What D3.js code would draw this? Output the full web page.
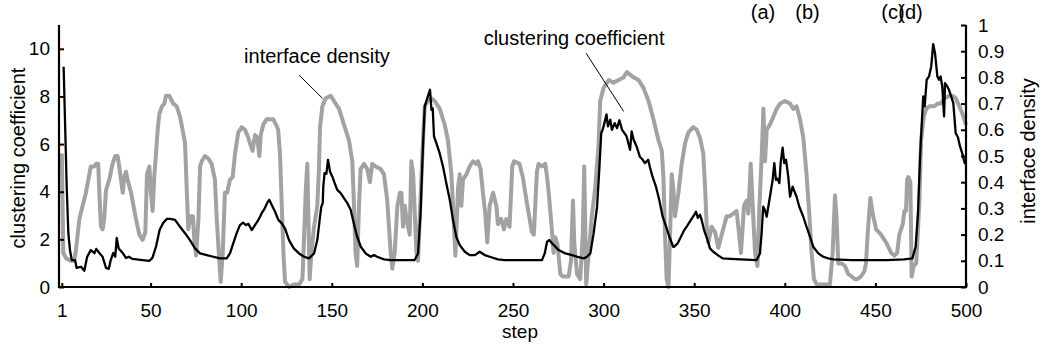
<!DOCTYPE html>
<html>
<head>
<meta charset="utf-8">
<script src="https://cdn.jsdelivr.net/npm/d3@7"></script>
<style>
  html, body { margin: 0; padding: 0; background: #fff; }
  svg { display: block; font-family: "Liberation Sans", Arial, Helvetica, sans-serif; }
</style>
</head>
<body>
<svg id="chart" width="1042" height="348"></svg>
<script>
// Step-indexed series: [step, value]
const clusteringCoefficient = [
  [2,9.25],[3.7,4.2],[4.6,2.27],[5.5,1.55],[6.5,1.13],[8.3,1.13],[9.2,0.8],[11.6,0.85],[13.4,0.68],
  [15,1.27],[17,1.55],[19,1.42],[20,1.6],[21.7,1.43],[23.5,1.27],[25.4,0.8],[26.9,0.76],[28,1.13],
  [29.4,1.43],[30.5,1.27],[31.3,2.06],[32.4,1.62],[34.6,1.43],[36.4,1.22],[38,1.27],[40,1.18],
  [45.6,1.13],[49.3,1.1],[51,1.22],[53,1.7],[55,2.4],[57,2.7],[59,2.86],[61,2.86],[63.5,2.82],
  [66.2,2.53],[69,2.26],[71.7,1.97],[74.5,1.62],[77.3,1.41],[81,1.34],[84.6,1.27],[88.3,1.2],
  [92,1.2],[93.8,1.41],[95.6,1.83],[97.5,2.26],[99.3,2.6],[101,2.7],[102.6,2.6],[104,2.65],
  [105.8,2.39],[107.6,2.6],[109.5,2.82],[110.4,2.95],[111.3,3.1],[113,3.3],[114.4,3.54],[115.5,3.66],
  [116.8,3.45],[118.7,3.16],[120.5,2.82],[122.3,2.68],[124.2,2.45],[126.4,1.97],[129,1.62],
  [131.9,1.41],[134.7,1.27],[137.4,1.2],[140.2,1.41],[142,1.97],[143.5,2.95],[144.2,3.37],[145,3.52],
  [145.3,4.21],[146,4.78],[147,4.75],[147.9,5.34],[149,4.85],[150.3,4.63],[151.6,4.36],[153,4.08],
  [154.9,3.94],[156.7,3.73],[158.6,3.52],[160.4,3.24],[161.3,2.95],[162.6,2.53],[164,2.11],[166,1.69],
  [168.7,1.41],[171.5,1.27],[173.3,1.34],[175,1.27],[178.8,1.16],[182.5,1.13],[195.7,1.13],[197.6,1.41],
  [199,3.1],[200.3,5.9],[201.3,7.58],[203,8.0],[204.2,8.28],[205,7.44],[205.7,7.5],[206.4,6.32],
  [207.7,6.04],[209.5,5.62],[211.4,5.05],[213.2,4.36],[215.1,3.66],[216.9,2.82],[218.7,2.11],
  [220.6,1.76],[223.4,1.48],[226.1,1.34],[229,1.34],[231.6,1.48],[234.4,1.34],[238,1.25],[241.7,1.16],
  [245.4,1.13],[266,1.13],[267.5,1.41],[268.8,1.9],[270,1.97],[271.5,1.84],[273.3,1.7],[275.2,1.55],
  [278.9,1.41],[282.6,1.34],[286.2,1.25],[289,1.2],[290.8,1.27],[292.7,1.41],[294.5,2.26],[296.4,3.37],
  [297.6,4.92],[298.7,6.46],[299.5,6.6],[300.5,6.9],[301.6,7.25],[302.4,6.74],[303.7,7.02],[304.6,6.6],
  [306.1,6.88],[307.4,6.67],[308.7,7.0],[310.2,6.6],[311.5,6.46],[312.7,6.32],[314.6,5.76],[315.5,6.53],
  [316.5,6.2],[318.2,5.9],[320,5.47],[321.6,5.34],[322.8,5.2],[324.6,5.34],[325.5,5.05],[327,4.63],
  [328.9,4.21],[330.7,3.66],[332.6,2.95],[334.5,2.53],[336.3,2.11],[338.4,1.69],[339,1.69],[340.9,1.84],
  [342.7,2.11],[344.5,2.39],[346.4,2.6],[348.2,2.82],[350,3.03],[351,3.16],[352,2.9],[353.2,3.03],
  [354,2.85],[355.4,2.4],[357.4,1.97],[358.7,1.62],[360.2,1.5],[363,1.34],[365.7,1.2],[370,1.18],
  [375.3,1.16],[384.5,1.13],[386.3,1.41],[387.2,2.26],[388.1,3.37],[389,3.24],[390,2.95],[390.9,3.37],
  [391.8,3.79],[393.3,4.5],[394.2,5.2],[395.1,4.5],[396,4.55],[397,4.36],[397.7,5.2],[398.8,5.85],
  [399.7,5.2],[400.7,5.34],[401.9,4.63],[402.9,3.79],[404.3,4.21],[405.4,4.0],[406.5,3.79],[408,3.37],
  [410.2,2.95],[412,2.53],[413.9,2.11],[415.7,1.69],[418.5,1.41],[421.2,1.27],[424,1.2],[426.8,1.16],
  [437,1.13],[456.6,1.13],[465.8,1.16],[470.4,1.2],[472.2,1.69],[473.5,3.1],[474.6,5.34],[475.5,6.74],
  [476.4,8.0],[477.2,7.58],[478.3,8.7],[479.6,8.84],[480.8,9.26],[481.9,10.2],[482.9,9.82],[484.2,8.84],
  [485.1,8.7],[486,8.84],[486.9,8.42],[487.9,7.16],[488.4,8.56],[489.7,8.42],[490.6,8.28],[491.8,8.0],
  [493,7.72],[494.3,6.46],[495.5,6.3],[496.7,5.9],[497.9,5.62],[499.3,5.2],[500,5.2]
];

const interfaceDensity = [
  [1,.51],[1.8,.13],[3.3,.11],[6,.10],[7.8,.10],[8.8,.14],[10.7,.26],[12.5,.31],[14.3,.36],[16.2,.43],
  [17,.46],[18.9,.46],[19.9,.47],[21.1,.47],[21.7,.36],[22.6,.23],[23.5,.22],[24.4,.26],[25.4,.37],
  [27.2,.41],[29,.47],[30.5,.50],[31.8,.50],[32.7,.46],[34.6,.36],[35.5,.42],[36.4,.44],[37.3,.41],
  [39.2,.36],[41.9,.26],[43.8,.20],[45.6,.18],[47.1,.21],[48,.43],[49.3,.46],[50.2,.36],[51.1,.29],
  [52.1,.43],[53,.51],[53.9,.60],[54.8,.66],[56.3,.69],[57.6,.70],[58.5,.73],[60.3,.73],[62.5,.70],
  [64.4,.69],[66.2,.65],[67.1,.62],[69,.55],[69.9,.38],[70.8,.22],[72.1,.27],[73.4,.27],[74,.19],
  [75.1,.12],[76.4,.26],[77.3,.46],[78.2,.48],[80,.50],[81.9,.49],[83.7,.47],[85.5,.41],[86.5,.26],
  [87.9,.10],[88.7,.02],[89.8,.13],[91,.36],[92.3,.36],[93.8,.41],[95.3,.42],[96.6,.51],[98.4,.59],
  [100.3,.61],[102.1,.60],[103.9,.57],[104.8,.55],[106.3,.52],[107.6,.58],[108.9,.57],[110,.50],
  [110.8,.58],[112.2,.62],[114,.64],[115.9,.64],[117.7,.64],[119.2,.62],[120.4,.60],[121.4,.51],
  [122.3,.33],[123.3,.13],[124.2,.02],[126.4,.00],[129,.01],[132,.01],[133.8,.03],[134.7,.19],
  [135.7,.38],[136.5,.47],[137.1,.26],[137.8,.03],[138.7,.13],[140.2,.23],[142,.31],[142.9,.45],
  [143.5,.61],[144.8,.69],[146.6,.72],[149.4,.73],[151.2,.71],[154,.68],[156.7,.62],[159.5,.56],
  [161.3,.48],[162.2,.32],[163.1,.13],[164,.08],[165,.31],[165.9,.45],[167.8,.47],[169.6,.45],[171,.40],
  [172.3,.47],[174.2,.46],[177,.45],[178.8,.43],[180.6,.33],[182.5,.13],[183.4,.07],[184.7,.13],
  [186.2,.31],[187.6,.36],[188.4,.36],[189.3,.23],[190.3,.31],[191.2,.26],[193,.20],[193.9,.48],
  [194.9,.43],[195.8,.28],[196.7,.13],[197.6,.10],[198.5,.26],[200.4,.57],[201.3,.69],[203.1,.71],
  [204.9,.72],[206.8,.71],[209.6,.68],[212.3,.62],[214.1,.56],[216,.43],[216.9,.31],[218.2,.12],
  [219.7,.38],[220.6,.43],[221.5,.31],[222.4,.41],[224.3,.43],[226.1,.46],[227.9,.48],[229.7,.47],
  [230.7,.48],[232.1,.45],[233.4,.36],[234.7,.28],[235.8,.17],[237.1,.31],[239,.36],[240.8,.31],
  [241.7,.24],[243.5,.26],[245,.22],[246.3,.26],[248.1,.23],[249.6,.46],[250.6,.48],[253.6,.47],
  [255.4,.42],[257.7,.32],[260.4,.21],[261.5,.20],[262.5,.34],[263.2,.44],[264.1,.47],[266,.46],
  [267.8,.47],[268.8,.42],[269.7,.36],[271.2,.24],[272.4,.13],[273.3,.19],[274.6,.16],[276.1,.05],
  [277.5,.04],[280.7,.04],[282,.10],[283.1,.33],[283.8,.17],[285.3,.05],[287.1,.03],[288.5,.20],
  [289.3,.46],[290.4,.01],[291.7,.12],[293.5,.27],[295.4,.38],[297.2,.54],[298.1,.71],[300,.76],
  [302.8,.79],[305.5,.78],[308.3,.79],[311,.80],[312.9,.82],[314.7,.81],[316.5,.80],[319.3,.79],
  [322,.76],[324.8,.71],[327.5,.64],[330.3,.56],[332.1,.52],[333,.42],[333.9,.20],[334.8,.03],
  [335.8,.00],[336.7,.20],[337.6,.43],[338.5,.37],[339.4,.27],[341.3,.36],[343.1,.47],[345,.55],
  [346.8,.59],[349.5,.61],[351.4,.60],[353.2,.57],[355,.51],[356,.38],[356.9,.23],[357.8,.17],
  [359.6,.23],[361.5,.21],[363.3,.15],[365.2,.20],[367.9,.27],[369.5,.27],[371.6,.28],[373.4,.29],
  [374.5,.22],[375.8,.13],[377.5,.31],[379,.33],[379.9,.28],[381.2,.47],[382.3,.31],[383.6,.13],
  [384.9,.08],[386,.31],[387.3,.51],[388.2,.68],[389.1,.48],[390,.60],[391.8,.62],[393.7,.65],
  [395.5,.68],[397.4,.70],[400.1,.71],[402.9,.70],[404.7,.68],[406.5,.69],[408.4,.64],[410.2,.57],
  [412,.43],[413.5,.28],[414.8,.13],[416.1,.03],[417.6,.01],[420.3,.01],[423.1,.01],[424.9,.01],
  [426.4,.13],[427.7,.35],[428.6,.26],[429.5,.09],[431.4,.09],[433.2,.08],[435,.05],[436.9,.04],
  [438.7,.03],[440,.03],[442,.04],[443.9,.06],[444.8,.09],[445.7,.20],[447.2,.34],[448.5,.28],
  [450.4,.22],[453.1,.20],[455.9,.17],[458.7,.13],[460.5,.12],[462,.13],[463.2,.20],[465.1,.24],
  [466,.29],[466.9,.29],[467.5,.41],[468.2,.42],[469.3,.40],[470,.04],[471.1,.08],[472.5,.09],
  [474.3,.33],[475.2,.56],[476.7,.65],[478,.68],[479.8,.69],[482.5,.69],[484.4,.70],[486.2,.70],
  [488,.72],[490.8,.73],[492.6,.73],[494.4,.72],[496.3,.69],[498.1,.66],[500,.62]
];

// Axis ticks
const stepTicks = [1, 50, 100, 150, 200, 250, 300, 350, 400, 450, 500];
const ccTicks = [0, 2, 4, 6, 8, 10];
const idTicks = [0, 0.1, 0.2, 0.3, 0.4, 0.5, 0.6, 0.7, 0.8, 0.9, 1];

// Event markers along the top
const eventSteps = [388, 412.5, 459.7, 469.4];
const eventLabels = ["(a)", "(b)", "(c)", "(d)"];

const svg = d3.select("#chart");
const plotLeft = 59, plotRight = 966, plotTop = 25, plotBottom = 287;

const x = d3.scaleLinear().domain([0, 500]).range([60, 966]);
const yL = d3.scaleLinear().domain([0, 11]).range([plotBottom, plotTop]);
const yR = d3.scaleLinear().domain([0, 1]).range([plotBottom, plotTop]);

const tickFont = "19px";
const titleFont = "20px";

// Series
const idLine = d3.line().x(d => x(d[0])).y(d => yR(d[1]));
const ccLine = d3.line().x(d => x(d[0])).y(d => yL(d[1]));

svg.append("path")
  .datum(interfaceDensity)
  .attr("d", idLine)
  .attr("fill", "none")
  .attr("stroke", "#a2a2a4")
  .attr("stroke-width", 4)
  .attr("stroke-linejoin", "round");

svg.append("path")
  .datum(clusteringCoefficient)
  .attr("d", ccLine)
  .attr("fill", "none")
  .attr("stroke", "#000")
  .attr("stroke-width", 2.3)
  .attr("stroke-linejoin", "round");

// Axes
function styleAxis(g) {
  g.select(".domain").remove();
  g.selectAll(".tick line").attr("stroke", "#000").attr("stroke-width", 2);
  g.selectAll(".tick text").attr("fill", "#000").style("font-size", tickFont);
}

svg.append("g")
  .attr("transform", `translate(0,${plotBottom})`)
  .call(d3.axisBottom(x).tickValues(stepTicks).tickSize(-4).tickPadding(17).tickFormat(d3.format("d")))
  .call(styleAxis)
  .call(g => g.selectAll(".tick text").attr("dy", "0.71em"));

svg.append("g")
  .attr("transform", `translate(${plotLeft},0)`)
  .call(d3.axisLeft(yL).tickValues(ccTicks).tickSize(-5).tickPadding(9).tickFormat(d3.format("d")))
  .call(styleAxis);

svg.append("g")
  .attr("transform", `translate(${plotRight},0)`)
  .call(d3.axisRight(yR).tickValues(idTicks).tickSize(-5).tickPadding(12).tickFormat(d3.format(".1~f")))
  .call(styleAxis);

// Frame lines (left, bottom, right)
const frame = svg.append("g").attr("stroke", "#000").attr("stroke-width", 2.2);
frame.append("line").attr("x1", plotLeft).attr("x2", plotLeft).attr("y1", plotTop).attr("y2", plotBottom + 1);
frame.append("line").attr("x1", plotRight).attr("x2", plotRight).attr("y1", plotTop).attr("y2", plotBottom + 1);
frame.append("line").attr("x1", plotLeft - 1).attr("x2", plotRight + 1).attr("y1", plotBottom).attr("y2", plotBottom);

// Axis titles
svg.append("text")
  .attr("transform", `translate(25,${(plotTop + plotBottom) / 2 + 2}) rotate(-90)`)
  .attr("text-anchor", "middle")
  .style("font-size", titleFont)
  .text("clustering coefficient");

svg.append("text")
  .attr("transform", `translate(1035,${(plotTop + plotBottom) / 2 - 5}) rotate(-90)`)
  .attr("text-anchor", "middle")
  .style("font-size", titleFont)
  .text("interface density");

svg.append("text")
  .attr("x", 520)
  .attr("y", 338)
  .attr("text-anchor", "middle")
  .style("font-size", tickFont)
  .text("step");

// Series annotations with leader lines
svg.append("text")
  .attr("x", x(141.8))
  .attr("y", yR(0.855))
  .attr("text-anchor", "middle")
  .style("font-size", titleFont)
  .text("interface density");
svg.append("line")
  .attr("x1", x(131.9)).attr("y1", yR(0.809))
  .attr("x2", x(144.9)).attr("y2", yR(0.72))
  .attr("stroke", "#000").attr("stroke-width", 1);

svg.append("text")
  .attr("x", x(283.7))
  .attr("y", yL(10.15))
  .attr("text-anchor", "middle")
  .style("font-size", titleFont)
  .text("clustering coefficient");
svg.append("line")
  .attr("x1", x(290.3)).attr("y1", yL(9.82))
  .attr("x2", x(311.1)).attr("y2", yL(7.37))
  .attr("stroke", "#000").attr("stroke-width", 1);

// Event labels
svg.append("g")
  .selectAll("text")
  .data(eventSteps)
  .join("text")
  .attr("x", d => x(d))
  .attr("y", 19)
  .attr("text-anchor", "middle")
  .style("font-size", titleFont)
  .text((d, i) => eventLabels[i]);
</script>
</body>
</html>
